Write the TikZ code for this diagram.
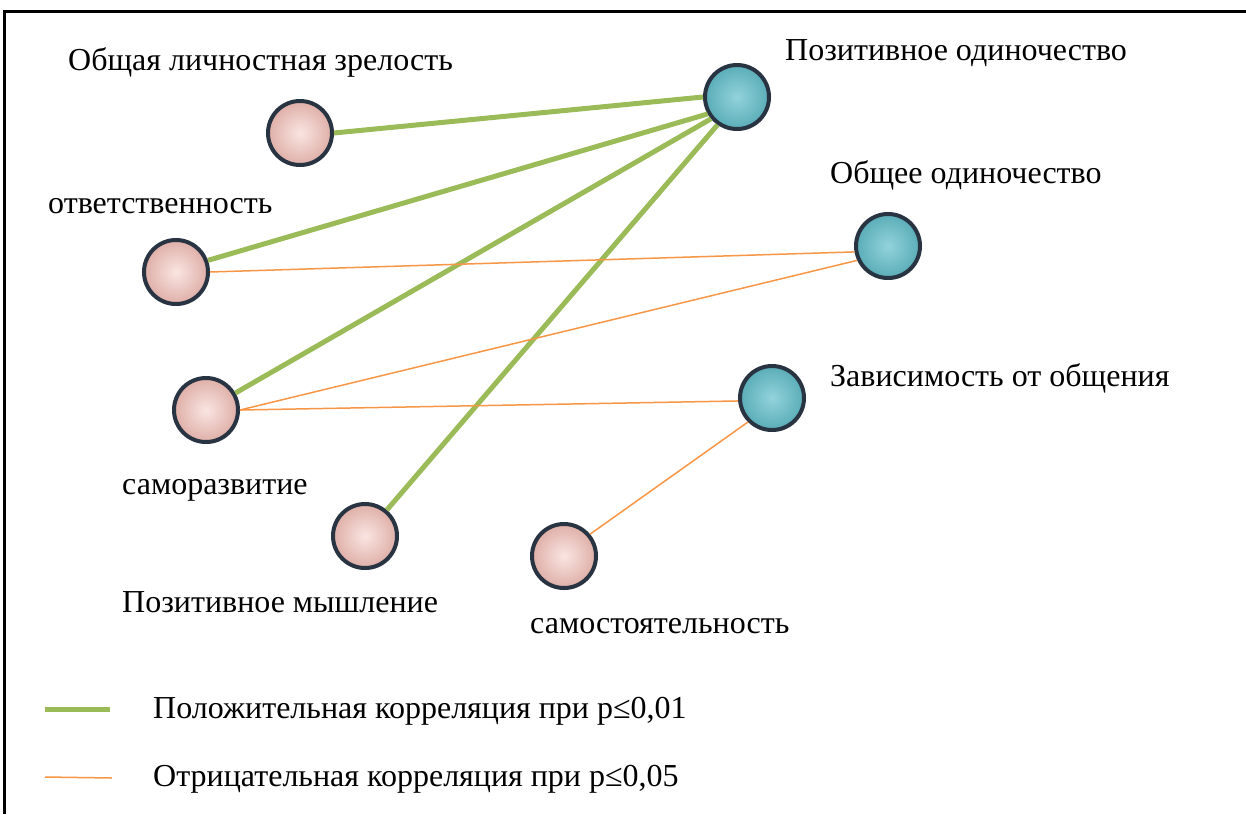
\documentclass[tikz,border=0pt]{standalone}
\usepackage{fontspec}
\setmainfont{Liberation Serif}
\usepackage{tikz}
\usetikzlibrary{positioning}
\usetikzlibrary{shadows}
\definecolor{PosGreen}{RGB}{155,187,89}
\definecolor{NegOrange}{RGB}{247,150,70}
\definecolor{BallPink}{RGB}{242,190,182}
\definecolor{BallTeal}{RGB}{100,192,204}
\definecolor{BallRim}{RGB}{40,52,66}

\begin{document}
\begin{tikzpicture}[x=1pt, y=-1pt, font=\fontsize{32}{36}\selectfont]
    \tikzset{ pball/.style ={circle, draw=BallRim, line width=4pt, minimum size=64pt, inner sep=0pt, inner color=white!60!BallPink, outer color=BallPink!92!black, drop shadow={opacity=0.25, shadow xshift=1pt, shadow yshift=-2pt}} }
    \tikzset{ tball/.style ={circle, draw=BallRim, line width=4pt, minimum size=64pt, inner sep=0pt, inner color=BallTeal!70!white, outer color=BallTeal!90!black, drop shadow={opacity=0.25, shadow xshift=1pt, shadow yshift=-2pt}} }
    \tikzset{ poscorr/.style ={draw=PosGreen, line width=5pt} }
    \tikzset{ negcorr/.style ={draw=NegOrange, line width=1.5pt} }
    \tikzset{ lbl/.style   ={inner sep=0pt, anchor=base west} }

    \useasboundingbox (0,0) rectangle (1246,814);
    \draw[line width=3pt] (4,814) -- (4,11) -- (1246,11);

    % factors of loneliness
    \node[tball] (po) at (737, 97)  {};
    \node[tball] (oo) at (888, 246) {};
    \node[tball] (zo) at (772, 398) {};

    % factors of maturity
    \node[pball] (olz) at (300, 133) {};
    \node[pball] (ot)  at (176, 272) {};
    \node[pball] (sr)  at (206, 410) {};
    \node[pball] (pm)  at (365, 536) {};
    \node[pball] (ss)  at (564, 556) {};

    \node[lbl] (po_l)  at (785, 60)  {Позитивное одиночество};
    \node[lbl] (oo_l)  at (830, 183) {Общее одиночество};
    \node[lbl] (zo_l)  at (830, 386) {Зависимость от общения};
    \node[lbl] (olz_l) at (68, 70)   {Общая личностная зрелость};
    \node[lbl] (ot_l)  at (48, 213)  {ответственность};
    \node[lbl] (sr_l)  at (122, 494) {саморазвитие};
    \node[lbl] (pm_l)  at (122, 612) {Позитивное мышление};
    \node[lbl] (ss_l)  at (530, 633) {самостоятельность};

    \draw[poscorr] (olz.east) -- (po.west);
    \draw[poscorr] (ot.20)    -- (po.210);
    \draw[poscorr] (sr.30)    -- (po.220);
    \draw[poscorr] (pm.50)    -- (po.235);
    \draw[negcorr] (ot.east)  -- (oo.190);
    \draw[negcorr] (sr.east)  -- (oo.205);
    \draw[negcorr] (sr.east)  -- (zo.185);
    \draw[negcorr] (ss.40)    -- (zo.225);

    % legend
    \coordinate (lg1a) at (45, 709);
    \coordinate (lg1b) at (110, 709);
    \coordinate (lg2a) at (45, 777);
    \coordinate (lg2b) at (112, 778);
    \draw[poscorr] (lg1a) -- (lg1b);
    \draw[negcorr] (lg2a) -- (lg2b);
    \node[lbl] (lg1_l) at (153, 718) {Положительная корреляция при p≤0,01};
    \node[lbl] (lg2_l) at (153, 786) {Отрицательная корреляция при p≤0,05};
\end{tikzpicture}
\end{document}
